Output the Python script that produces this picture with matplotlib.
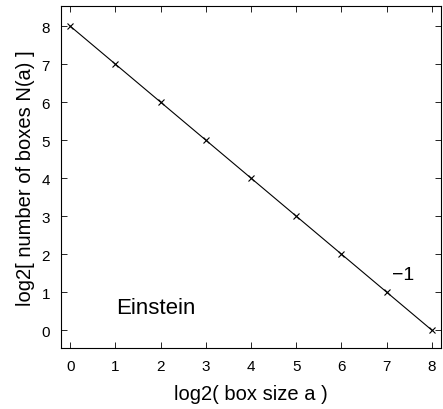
import matplotlib
matplotlib.use("Agg")
import matplotlib.pyplot as plt

plt.rcParams['font.family'] = ['Liberation Sans', 'DejaVu Sans']

# box-counting result for the Einstein image
log_box_size = [0, 1, 2, 3, 4, 5, 6, 7, 8]
log_box_count = [8, 7, 6, 5, 4, 3, 2, 1, 0]
slope_label = "\u22121"

fig = plt.figure(figsize=(4.43, 4.10), dpi=100)
ax = fig.add_axes([0.138, 0.149, 0.857, 0.834])

ax.plot(log_box_size, log_box_count, color='black', lw=0.8,
        marker='x', ms=5, mew=0.8)

ax.set_xlim(-0.2, 8.2)
ax.set_ylim(-0.47, 8.53)
ax.set_xticks(range(0, 9))
ax.set_yticks(range(0, 9))
ax.tick_params(direction='in', top=True, right=True, length=4, width=0.6,
               labelsize=11, pad=8)
for s in ax.spines.values():
    s.set_linewidth(0.8)

ax.text(1.02, 0.6, "Einstein", fontsize=16, va='center', ha='left')
ax.text(7.12, 1.47, slope_label, fontsize=14, va='center', ha='left')

ax.set_xlabel("log2( box size a )", fontsize=14.5, labelpad=8)
ax.set_ylabel("log2[ number of boxes N(a) ]", fontsize=14.5, labelpad=5)

fig.savefig("out.png", dpi=100)
